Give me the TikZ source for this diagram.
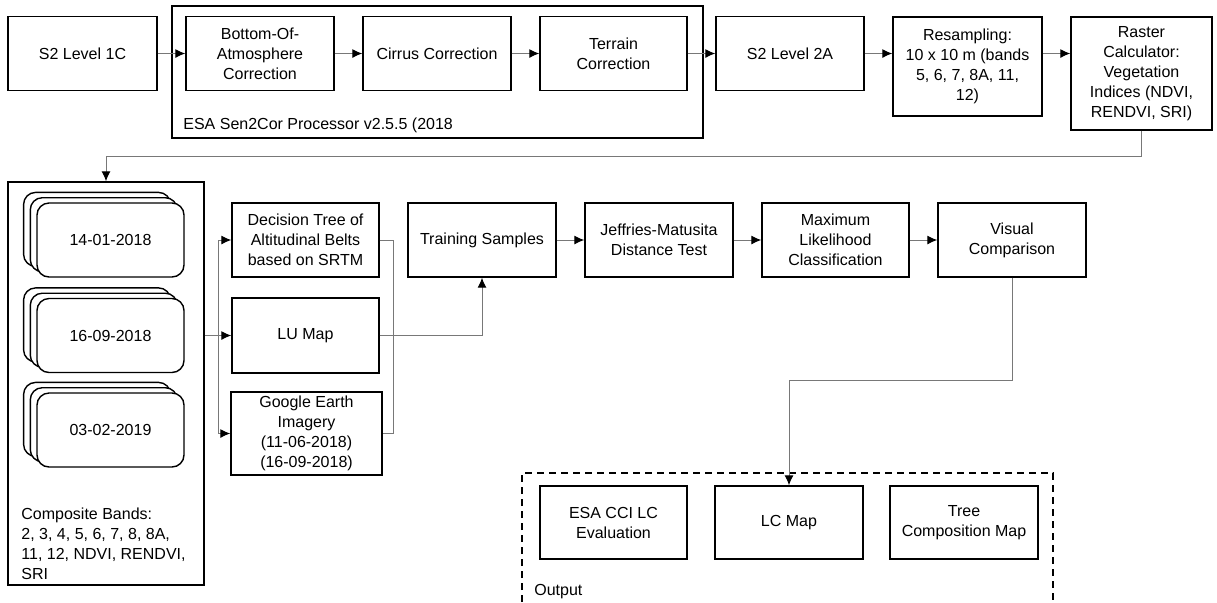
\documentclass[tikz,border=0pt]{standalone}
\usepackage{fontspec}
\setmainfont{Liberation Sans}
\usetikzlibrary{arrows.meta}
\definecolor{linegray}{RGB}{120,120,120}

\tikzset{
  box/.style={draw, line width=0.7pt, align=center, inner sep=1pt,
    minimum width=74pt, minimum height=37pt},
  date/.style={box, minimum width=73.5pt, rounded corners=6pt, fill=white},
  frame/.style={draw, line width=0.7pt, inner sep=0pt},
  link/.style={draw=linegray, line width=0.5pt},
}

\begin{document}
\begin{tikzpicture}[x=0.5pt, y=-0.5pt, >={Latex[length=5pt, width=4.5pt, color=black]},
    font=\fontsize{8}{10}\selectfont]
  \useasboundingbox (0,0) rectangle (1217,602);
  \coordinate (turn) at (0,156);
  \coordinate (fork) at (218,0);
  \coordinate (join) at (393,0);
  \coordinate (drop) at (0,380);

  % Sen2Cor processing
  \node[frame, minimum width=265.5pt, minimum height=66pt] (s2c) at (437.5,72) {};
  \node[anchor=west, inner sep=0pt] (s2clabel) at (183,125) {ESA Sen2Cor Processor v2.5.5 (2018};
  \node[box, minimum width=74.5pt] (l1c) at (82.5,53.5) {S2 Level 1C};
  \node[box] (boa) at (260,53.5) {Bottom-Of-\\Atmosphere\\Correction};
  \node[box] (cirrus) at (437,53.5) {Cirrus Correction};
  \node[box, minimum width=73.5pt] (terrain) at (613.5,53.5) {Terrain\\Correction};
  \node[box] (l2a) at (790,53.5) {S2 Level 2A};
  \node[box, minimum width=74.5pt, minimum height=49.5pt] (resamp) at (967.5,66.5)
    {Resampling:\\10 x 10 m (bands\\5, 6, 7, 8A, 11,\\12)};
  \node[box, minimum width=70.5pt, minimum height=56.5pt] (raster) at (1141.5,73.5)
    {Raster\\Calculator:\\Vegetation\\Indices (NDVI,\\RENDVI, SRI)};

  % image dates
  \node[frame, minimum width=98pt, minimum height=201.5pt] (bands) at (106,383.5) {};
  \foreach \name/\cy/\day in {d1/240/14-01-2018, d2/335.5/16-09-2018, d3/430/03-02-2019} {
    \node[date] (\name-b) at (110.5-13.4,\cy-10.6) {};
    \node[date] (\name-a) at (110.5-6.7,\cy-5.3) {};
    \node[date] (\name) at (110.5,\cy) {\day};
  }
  \node[anchor=north west, align=left, inner sep=0pt] (bandtxt) at (21,507)
    {Composite Bands:\\2, 3, 4, 5, 6, 7, 8, 8A,\\11, 12, NDVI, RENDVI,\\SRI};

  \node[box, minimum width=73.5pt] (dtree) at (305.5,240) {Decision Tree of\\Altitudinal Belts\\based on SRTM};
  \node[box, minimum width=73.5pt, minimum height=37.5pt] (lumap) at (305.5,335.5) {LU Map};
  \node[box, minimum width=75.5pt, minimum height=41.5pt] (gearth) at (306.5,433.5)
    {Google Earth\\Imagery\\(11-06-2018)\\(16-09-2018)};
  \node[box] (train) at (482,240) {Training Samples};
  \node[box] (jm) at (659,240) {Jeffries-Matusita\\Distance Test};
  \node[box, minimum width=73.5pt] (mlc) at (835.5,240) {Maximum\\Likelihood\\Classification};
  \node[box] (visual) at (1012,240) {Visual\\Comparison};

  % output
  \draw[line width=0.7pt, dash pattern=on 3.5pt off 2.5pt] (522,602) |- (1053,473) -- (1053,602);
  \node[anchor=west, inner sep=0pt] (outlabel) at (534,592) {Output};
  \node[box, minimum width=73.5pt, minimum height=36.5pt] (esa) at (613.5,522.5) {ESA CCI LC\\Evaluation};
  \node[box, minimum height=36.5pt] (lcmap) at (789,522.5) {LC Map};
  \node[box, minimum height=36.5pt] (treemap) at (964,522.5) {Tree\\Composition Map};

  \draw[link,->] (l1c.east) -- (boa.west);
  \draw[link,->] (boa.east) -- (cirrus.west);
  \draw[link,->] (cirrus.east) -- (terrain.west);
  \draw[link,->] (terrain.east) -- (l2a.west);
  \draw[link,->] (l2a.east) -- (resamp.west |- l2a.east);
  \draw[link,->] (resamp.east |- l2a.east) -- (raster.west |- l2a.east);
  \draw[link,->] (raster.south) -- (raster.south |- turn) -| (bands.north);
  \draw[link,->] (bands.east |- lumap.west) -- (lumap.west);
  \draw[link,->] (fork |- lumap.west) |- (dtree.west);
  \draw[link,->] (fork |- lumap.west) |- (gearth.west);
  \draw[link] (dtree.east) -| (join |- gearth.east) -- (gearth.east);
  \draw[link,->] (lumap.east) -| (train.south);
  \draw[link,->] (train.east) -- (jm.west);
  \draw[link,->] (jm.east) -- (mlc.west);
  \draw[link,->] (mlc.east) -- (visual.west);
  \draw[link,->] (visual.south) -- (visual.south |- drop) -| (lcmap.north);
\end{tikzpicture}
\end{document}
